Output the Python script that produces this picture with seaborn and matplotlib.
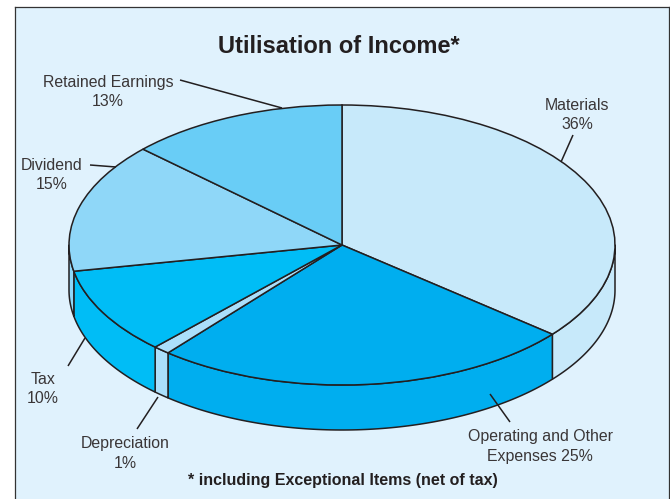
import numpy as np
import matplotlib
matplotlib.use("Agg")
import matplotlib.pyplot as plt
import seaborn as sns

# ---- data ----
categories = ["Materials", "Operating and Other Expenses", "Depreciation", "Tax", "Dividend", "Retained Earnings"]
values = [36, 25, 1, 10, 15, 13]
label_texts = ["Materials\n36%", "Operating and Other\nExpenses 25%", "Depreciation\n1%",
               "Tax\n10%", "Dividend\n15%", "Retained Earnings\n13%"]
slice_colors = ["#C7E9FA", "#00AEEF", "#ABDFFB", "#00BDF6", "#8FD7F8", "#69CDF6"]
title_text = "Utilisation of Income*"
note_text = "* including Exceptional Items (net of tax)"

# ---- layout (pixels of the 670x499 picture) ----
W, H = 670, 499
CX, CY, RX, RY, DEPTH = 342, 245, 273, 140, 45
INK = "#231F20"
TEXT = "#3A3637"
label_pos = [(577, 115), (540, 446.5), (125, 453.5), (43, 389), (52, 175), (108, 92)]
leaders = [((573, 135), (561, 162)), ((490, 394), (510, 422)), ((137, 429), (158, 397)),
           ((68, 366), (85, 338)), ((90, 165), (116, 167)), ((180, 80), (282, 108))]

sns.set_theme(style="white")
plt.rcParams["font.family"] = ["Liberation Sans", "DejaVu Sans"]
palette = sns.color_palette(slice_colors)

def ux(px): return (px - CX) / RX
def uy(py): return (CY - py) / RY

fig = plt.figure(figsize=(W / 100, H / 100), dpi=100, facecolor="white")

bg = fig.add_axes([15 / W, -0.02, (669 - 15) / W, (H - 7) / H + 0.02])
bg.set_facecolor("#E0F2FD")
bg.set_xticks([]); bg.set_yticks([])
for s in bg.spines.values():
    s.set_color("#333333"); s.set_linewidth(0.9)

ax = fig.add_axes([0, 0, 1, 1], facecolor="none")
d = DEPTH / RY

# side wall: the visible lower half of each slice
edges = 90 - np.cumsum([0] + values) * 3.6
for i, col in enumerate(palette):
    hi, lo = edges[i], edges[i + 1]
    hi_c, lo_c = min(hi, 0), max(lo, -180)
    if hi_c <= lo_c:
        continue
    t = np.radians(np.linspace(hi_c, lo_c, 100))
    xs, ys = np.cos(t), np.sin(t)
    ax.fill(np.r_[xs, xs[::-1]], np.r_[ys, ys[::-1] - d],
            facecolor=col, edgecolor=INK, linewidth=1.1, zorder=1, joinstyle="round")

# top face
ax.pie(values, colors=palette, startangle=90, counterclock=False, radius=1, center=(0, 0),
       wedgeprops=dict(edgecolor=INK, linewidth=1.1, zorder=2))
ax.set_aspect("auto")
ax.set_xlim(ux(0), ux(W))
ax.set_ylim(uy(H), uy(0))
ax.axis("off")

# leader lines and texts
for (a, b) in leaders:
    ax.plot([ux(a[0]), ux(b[0])], [uy(a[1]), uy(b[1])], color=INK, lw=1.1, zorder=3, solid_capstyle="butt")
for txt, (x, y) in zip(label_texts, label_pos):
    ax.text(ux(x), uy(y), txt, ha="center", va="center", fontsize=11.4, color=TEXT,
            linespacing=1.38, zorder=4)
ax.text(ux(339), uy(46.5), title_text, ha="center", va="center", fontsize=17, fontweight="bold", color=INK)
ax.text(ux(343), uy(480), note_text, ha="center", va="center", fontsize=11.5, fontweight="bold", color=INK)

fig.savefig("out.png", dpi=100)
